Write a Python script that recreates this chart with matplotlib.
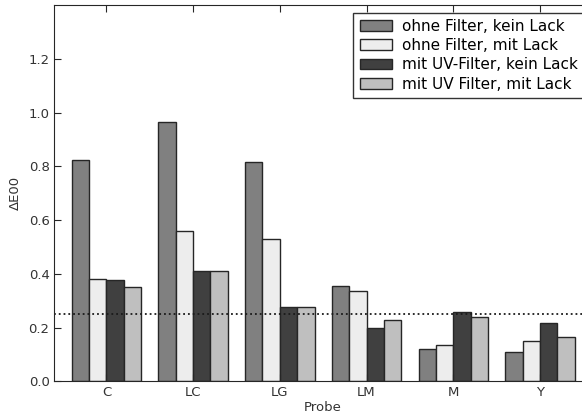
import numpy as np
import matplotlib
matplotlib.use("Agg")
from matplotlib import pyplot as plt

proben = ["C", "LC", "LG", "LM", "M", "Y"]
labels = ["ohne Filter, kein Lack", "ohne Filter, mit Lack",
          "mit UV-Filter, kein Lack", "mit UV Filter, mit Lack"]
ohne_kein = [0.824, 0.964, 0.815, 0.356, 0.120, 0.111]
ohne_mit = [0.382, 0.558, 0.531, 0.335, 0.136, 0.152]
uv_kein = [0.378, 0.409, 0.277, 0.198, 0.259, 0.217]
uv_mit = [0.352, 0.409, 0.277, 0.229, 0.239, 0.167]
grenzwert = 0.25

plt.rcParams["font.size"] = 9.5
plt.rcParams["xtick.direction"] = "in"
plt.rcParams["ytick.direction"] = "in"

fig = plt.figure(figsize=(5.82, 4.16), dpi=100)
ax = fig.add_axes([0.0935, 0.083, 0.9236, 0.905])

serien = [ohne_kein, ohne_mit, uv_kein, uv_mit]
farben = ["0.5", "0.93", "0.25", "0.75"]
x = np.arange(len(proben))
breite = 0.2
for i, (werte, farbe, lab) in enumerate(zip(serien, farben, labels)):
    ax.bar(x + (i - 1.5) * breite, werte, breite, color=farbe,
           edgecolor="0.15", linewidth=1.0, label=lab)

ax.axhline(grenzwert, color="0.1", linestyle=":", linewidth=1.3)

ax.set_xlim(-0.6, 5.6)
ax.set_ylim(0, 1.4)
ax.set_xticks(x)
ax.set_xticklabels(proben)
ax.set_yticks([0.0, 0.2, 0.4, 0.6, 0.8, 1.0, 1.2])
ax.tick_params(top=True, right=True, length=5, colors="0.15", labelcolor="0.2")
ax.set_xlabel("Probe", color="0.2", labelpad=1)
ax.set_ylabel("ΔE00", color="0.2", labelpad=5)
for sp in ax.spines.values():
    sp.set_color("0.15")

ax.legend(loc="upper right", fontsize=11, handlelength=2.1, fancybox=False,
          edgecolor="0.2", framealpha=1, borderaxespad=0.5, labelspacing=0.28,
          handletextpad=0.7)

fig.savefig("out.png", dpi=100, facecolor="white")
